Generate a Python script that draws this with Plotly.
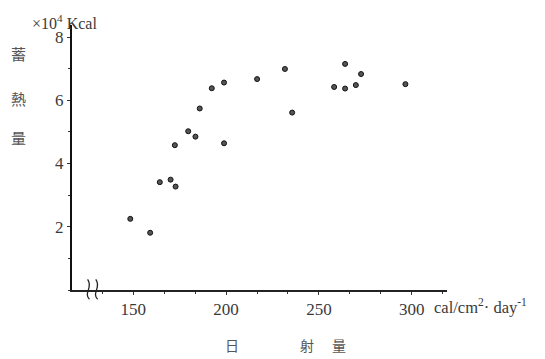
import plotly.graph_objects as go

# Solar radiation (cal/cm2/day) and heat storage (x10^4 Kcal)
radiation = [148.4, 159.1, 164.3, 170.1, 172.8, 172.4, 179.6, 183.5, 185.8, 192.3,
             198.9, 198.9, 216.7, 231.7, 235.6, 258.2, 264.1, 264.1, 269.9, 272.7, 296.6]
heat = [2.25, 1.81, 3.41, 3.49, 3.27, 4.58, 5.02, 4.85, 5.74, 6.38,
        6.56, 4.64, 6.67, 6.99, 5.61, 6.42, 7.15, 6.37, 6.48, 6.83, 6.51]
x_ticks = [150, 200, 250, 300]
y_ticks = [2, 4, 6, 8]

SERIF = "Liberation Serif"
CJK = "Noto Sans CJK JP"
INK = "#3a3a3a"

fig = go.Figure()
fig.add_trace(go.Scatter(
    x=radiation, y=heat, mode="markers",
    marker=dict(symbol="circle", size=5, color="#555555",
                line=dict(color="#111111", width=1)),
    showlegend=False, hoverinfo="x+y"))

# page body has an 8px margin, so the figure is drawn 8px in and down
fig.update_layout(
    width=537, height=351,
    margin=dict(l=64, r=98, t=17, b=69),
    paper_bgcolor="white", plot_bgcolor="white",
    font=dict(family=SERIF, color=INK, size=15),
)
fig.update_xaxes(
    range=[117, 319], tickvals=x_ticks, ticktext=[str(v) for v in x_ticks],
    showgrid=False, zeroline=False, showline=True, linecolor="#222", linewidth=1.5,
    ticks="outside", ticklen=3, tickcolor="#333",
    minor=dict(dtick=50/3, tick0=150, ticks="outside", ticklen=2, tickcolor="#333"),
    tickfont=dict(family=SERIF, size=17, color=INK))
fig.update_yaxes(
    range=[0, 8.38], tickvals=y_ticks, ticktext=[str(v) for v in y_ticks],
    showgrid=False, zeroline=False, showline=True, linecolor="#111", linewidth=2.2,
    ticks="outside", ticklen=3, tickcolor="#333",
    minor=dict(dtick=1, tick0=0, ticks="outside", ticklen=2, tickcolor="#333"),
    tickfont=dict(family=SERIF, size=17, color=INK))

# axis break squiggles
for a in (125.2, 129.6):
    fig.add_shape(type="path", xref="x", yref="paper",
                  path=f"M {a+1.2},-0.035 C {a-2.2},-0.012 {a+3.4},0.012 {a+0.2},0.04",
                  line=dict(color="#222", width=1.3))

ann = [
    dict(text="×10<sup>4</sup> Kcal", x=-0.112, y=1.058, xanchor="left", yanchor="top",
         font=dict(family=SERIF, size=16, color=INK)),
    dict(text="蓄", x=-0.144, y=0.894, font=dict(family=CJK, size=15, color="#555")),
    dict(text="熱", x=-0.144, y=0.7245, font=dict(family=CJK, size=15, color="#555")),
    dict(text="量", x=-0.144, y=0.577, font=dict(family=CJK, size=15, color="#555")),
    dict(text="日", x=0.4267, y=-0.2075, font=dict(family=CJK, size=14, color="#555")),
    dict(text="射", x=0.6267, y=-0.2075, font=dict(family=CJK, size=14, color="#555")),
    dict(text="量", x=0.712, y=-0.2075, font=dict(family=CJK, size=14, color="#555")),
    dict(text="cal/cm<sup>2</sup>· day<sup>-1</sup>", x=0.96, y=-0.064, xanchor="left",
         font=dict(family=SERIF, size=16.5, color=INK)),
]
for a in ann:
    a.setdefault("xanchor", "center")
    a.setdefault("yanchor", "middle")
    fig.add_annotation(xref="paper", yref="paper", showarrow=False, **a)

fig.write_html("out.html")
